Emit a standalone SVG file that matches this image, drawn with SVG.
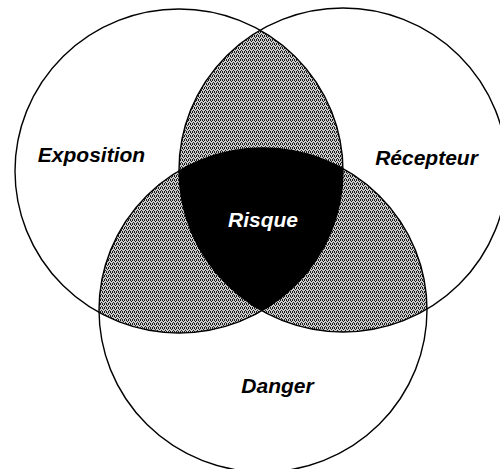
<svg xmlns="http://www.w3.org/2000/svg" width="500" height="469" viewBox="0 0 500 469">
  <style>
    .ring { fill: none; stroke: #000; stroke-width: 1.4; }
    .lbl { font-family: "Liberation Sans", Arial, sans-serif; font-weight: bold; font-style: italic; font-size: 21px; text-anchor: middle; }
    .dot { fill: #1a1a1a; }
  </style>
  <defs>
    <pattern id="stip" patternUnits="userSpaceOnUse" width="4" height="4">
      <rect width="4" height="4" fill="#cdcdcd"/>
      <rect class="dot" x="0" y="0" width="1" height="1"/>
      <rect class="dot" x="2" y="0" width="1" height="1"/>
      <rect class="dot" x="1" y="2" width="1" height="1"/>
      <rect class="dot" x="3" y="1" width="1" height="1"/>
      <rect class="dot" x="2" y="3" width="1" height="1"/>
      <rect class="dot" x="0" y="3" width="1" height="1"/>
    </pattern>
    <clipPath id="cA"><ellipse cx="179" cy="171" rx="164" ry="162"/></clipPath>
    <clipPath id="cB"><ellipse cx="343" cy="170" rx="164" ry="162"/></clipPath>
    <clipPath id="cC"><ellipse cx="263" cy="310" rx="164" ry="162"/></clipPath>
  </defs>
  <rect width="500" height="469" fill="#fff"/>
  <g id="overlaps">
    <ellipse cx="343" cy="170" rx="164" ry="162" fill="url(#stip)" clip-path="url(#cA)"/>
    <ellipse cx="263" cy="310" rx="164" ry="162" fill="url(#stip)" clip-path="url(#cA)"/>
    <ellipse cx="263" cy="310" rx="164" ry="162" fill="url(#stip)" clip-path="url(#cB)"/>
    <g id="risque-zone" clip-path="url(#cA)">
      <ellipse cx="343" cy="170" rx="164" ry="162" fill="#000" clip-path="url(#cC)"/>
    </g>
  </g>
  <g id="exposition">
    <ellipse class="ring" cx="179" cy="171" rx="164" ry="162"/>
    <text class="lbl" x="91.5" y="162">Exposition</text>
  </g>
  <g id="recepteur">
    <ellipse class="ring" cx="343" cy="170" rx="164" ry="162"/>
    <text class="lbl" x="426.5" y="165">Récepteur</text>
  </g>
  <g id="danger">
    <ellipse class="ring" cx="263" cy="310" rx="164" ry="162"/>
    <text class="lbl" x="277.5" y="393">Danger</text>
  </g>
  <g id="risque">
    <text class="lbl" x="263" y="227" fill="#fff">Risque</text>
  </g>
</svg>
